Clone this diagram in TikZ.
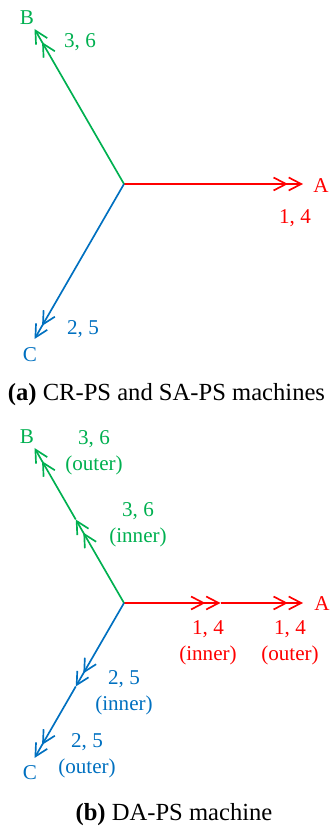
\documentclass[tikz,border=0pt]{standalone}
\usepackage{fontspec}
\setmainfont{Liberation Serif}
\usetikzlibrary{arrows.meta}

\begin{document}
\begin{tikzpicture}[
  phase/.style={line width=0.95pt, -{Straight Barb[length=2.5mm,width=2.6mm]Straight Barb[length=2.5mm,width=2.6mm]}},
  lbl/.style={font=\fontsize{12}{14.8}\selectfont, align=center, inner sep=0pt},
  capt/.style={font=\fontsize{14}{16}\selectfont, inner sep=0pt}]
% Define the custom colors
  \definecolor{phred}{RGB}{255,0,0}
  \definecolor{phgreen}{RGB}{0,176,80}
  \definecolor{phblue}{RGB}{0,112,192}

  \useasboundingbox (0,0) rectangle (6.62,16.52);

  % (a) single winding set
  \coordinate (o1) at (2.48,12.84);
  \coordinate (a1) at (6.06,12.84);
  \coordinate (b1) at (0.69,15.94);
  \coordinate (c1) at (0.69,9.74);
  \draw[phase, phred] (o1) -- (a1);
  \draw[phase, phgreen] (o1) -- (b1);
  \draw[phase, phblue] (o1) -- (c1);
  \node[lbl, phred] (la1) at (6.42,12.80) {A};
  \node[lbl, phgreen] (lb1) at (0.54,16.16) {B};
  \node[lbl, phblue] (lc1) at (0.60,9.42) {C};
  \node[lbl, phred] (na1) at (5.90,12.16) {1, 4};
  \node[lbl, phgreen] (nb1) at (1.60,15.68) {3, 6};
  \node[lbl, phblue] (nc1) at (1.66,9.94) {2, 5};
  \node[capt] (capa) at (3.33,8.62) {\textbf{(a)} CR-PS and SA-PS machines};

  % (b) inner and outer winding sets
  \coordinate (o2) at (2.48,4.46);
  \coordinate (ai2) at (4.41,4.46);
  \coordinate (a2) at (6.06,4.46);
  \coordinate (bi2) at (1.515,6.13);
  \coordinate (b2) at (0.69,7.56);
  \coordinate (ci2) at (1.515,2.79);
  \coordinate (c2) at (0.69,1.36);
  \draw[phase, phred] (o2) -- (ai2);
  \draw[phase, phred] (ai2) -- (a2);
  \draw[phase, phgreen] (o2) -- (bi2);
  \draw[phase, phgreen] (bi2) -- (b2);
  \draw[phase, phblue] (o2) -- (ci2);
  \draw[phase, phblue] (ci2) -- (c2);
  \node[lbl, phred] (la2) at (6.44,4.44) {A};
  \node[lbl, phgreen] (lb2) at (0.54,7.78) {B};
  \node[lbl, phblue] (lc2) at (0.60,1.06) {C};
  \node[lbl, phred] (nai2) at (4.16,3.66) {1, 4\\(inner)};
  \node[lbl, phred] (nao2) at (5.80,3.66) {1, 4\\(outer)};
  \node[lbl, phgreen] (nbi2) at (2.76,6.02) {3, 6\\(inner)};
  \node[lbl, phgreen] (nbo2) at (1.88,7.46) {3, 6\\(outer)};
  \node[lbl, phblue] (nci2) at (2.48,2.66) {2, 5\\(inner)};
  \node[lbl, phblue] (nco2) at (1.74,1.40) {2, 5\\(outer)};
  \node[capt] (capb) at (3.48,0.22) {\textbf{(b)} DA-PS machine};

\end{tikzpicture}
\end{document}
